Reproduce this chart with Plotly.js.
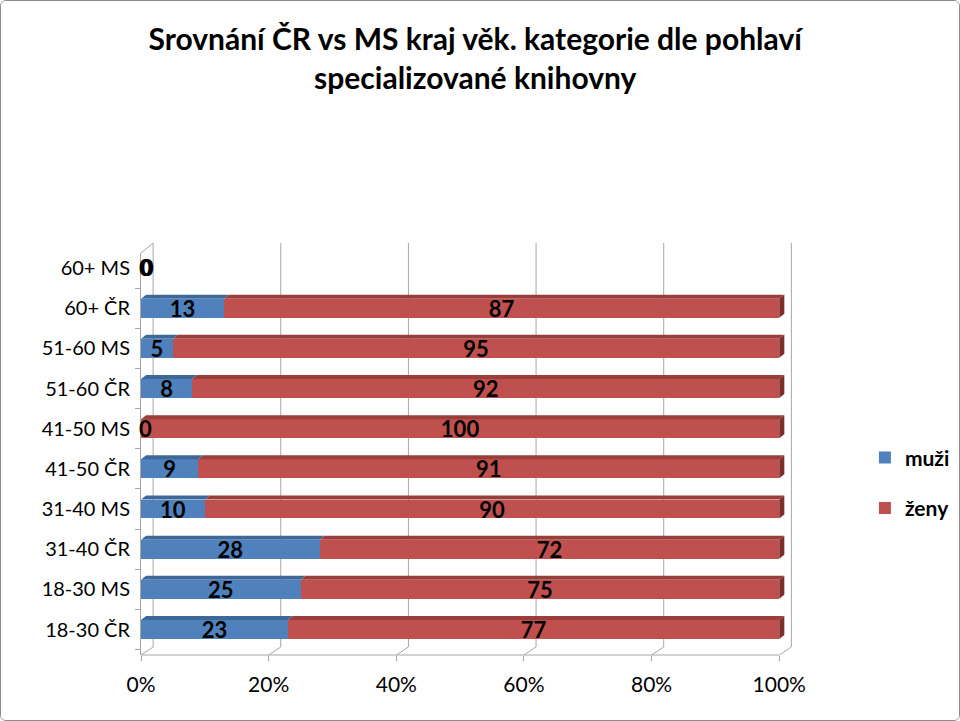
<!DOCTYPE html>
<html>
<head>
<meta charset="utf-8">
<script src="https://cdn.plot.ly/plotly-3.0.1.min.js"></script>
<style>
  body { margin: 0; background: #fff; }
  #chart { width: 958px; height: 719px; border: 1px solid #8c8c8c; border-radius: 6px; overflow: hidden; }
</style>
</head>
<body>
<div id="chart"></div>
<script>
var categories = ["18-30 ČR", "18-30 MS", "31-40 ČR", "31-40 MS", "41-50 ČR",
                  "41-50 MS", "51-60 ČR", "51-60 MS", "60+ ČR", "60+ MS"];
var muzi = [23, 25, 28, 10, 9, 0, 8, 5, 13, 0];
var zeny = [77, 75, 72, 90, 91, 100, 92, 95, 87, 0];
var xTicks = [0, 20, 40, 60, 80, 100];

var BLUE = "#4F81BD", RED = "#C0504D";
var BLUE_TOP = "#3E6898", RED_TOP = "#9A3E3B", RED_SIDE = "#7B2E2C";
var GRID = "#a6a6a6";
var FONT = "Lato, sans-serif";
var labelFont = { family: FONT, size: 22, color: "#000000" };

// fake 3D: depth of bars and of the back wall (x in axis units, y in px / paper)
var barDx = 0.8, barDy = 4, halfBar = 9.5;
var wallDx = 1.9, wallDyTop = 1.025, wallDyBottom = 0.02;

function barTrace(name, values, color, group) {
  return {
    type: "bar",
    orientation: "h",
    name: name,
    legendgroup: group,
    y: categories,
    x: values,
    marker: { color: color },
    text: values.map(function (v) { return v > 0 ? "<b>" + v + "</b>" : ""; }),
    textposition: "inside",
    insidetextanchor: "middle",
    textangle: 0,
    textfont: labelFont,
    hoverinfo: "x+y+name",
  };
}

var data = [
  barTrace("muži", muzi, BLUE, "a"),
  barTrace("ženy", zeny, RED, "b"),
];

var shapes = [];

// floor front edge
shapes.push({
  type: "line", xref: "x", yref: "paper", layer: "below",
  x0: 0, x1: 100, y0: 0, y1: 0,
  line: { color: GRID, width: 1 },
});
// back wall grid lines with the slanted floor piece
xTicks.forEach(function (t) {
  shapes.push({
    type: "path", xref: "x", yref: "paper", layer: "below",
    path: "M " + t + ",0 L " + (t + wallDx) + "," + wallDyBottom + " L " + (t + wallDx) + "," + wallDyTop,
    line: { color: GRID, width: 1 },
  });
});
// left wall top edge
shapes.push({
  type: "path", xref: "x", yref: "paper", layer: "below",
  path: "M 0,1 L " + wallDx + "," + wallDyTop,
  line: { color: GRID, width: 1 },
});

// top and side faces of the bars
function topFace(y, x0, x1, color) {
  shapes.push({
    type: "path", xref: "x", yref: "y", ysizemode: "pixel", yanchor: y, layer: "above",
    path: "M " + x0 + "," + halfBar + " L " + (x0 + barDx) + "," + (halfBar + barDy) +
          " L " + (x1 + barDx) + "," + (halfBar + barDy) + " L " + x1 + "," + halfBar + " Z",
    fillcolor: color, line: { width: 0 },
  });
}
for (var i = 0; i < categories.length; i++) {
  var total = muzi[i] + zeny[i];
  if (muzi[i] > 0) topFace(categories[i], 0, muzi[i], BLUE_TOP);
  if (zeny[i] > 0) topFace(categories[i], muzi[i], total, RED_TOP);
  if (total > 0) {
    shapes.push({
      type: "path", xref: "x", yref: "y", ysizemode: "pixel", yanchor: categories[i], layer: "above",
      path: "M " + total + "," + (-halfBar) + " L " + (total + barDx) + "," + (-halfBar + barDy) +
            " L " + (total + barDx) + "," + (halfBar + barDy) + " L " + total + "," + halfBar + " Z",
      fillcolor: zeny[i] > 0 ? RED_SIDE : "#2F4D70", line: { width: 0 },
    });
  }
}

// zero values have no bar, so their labels go in as annotations
var annotations = [];
for (var j = 0; j < categories.length; j++) {
  [muzi, zeny].forEach(function (arr, k) {
    if (arr[j] === 0) {
      annotations.push({
        x: k === 0 ? 0 : muzi[j], y: categories[j], xref: "x", yref: "y",
        text: "<b>0</b>", showarrow: false, xanchor: "left", xshift: -4 + k * 2,
        font: labelFont,
      });
    }
  });
}

var layout = {
  width: 958,
  height: 719,
  margin: { l: 140, r: 167, t: 252, b: 65, autoexpand: false },
  paper_bgcolor: "#ffffff",
  plot_bgcolor: "#ffffff",
  font: { family: FONT, color: "#000000", size: 20 },
  title: {
    text: "<b>Srovnání ČR vs MS kraj věk. kategorie dle pohlaví<br>specializované knihovny</b>",
    font: { family: FONT, size: 30, color: "#000000" },
    x: 0.495, xref: "container", xanchor: "center",
    y: 0.932, yref: "container", yanchor: "middle",
  },
  barmode: "stack",
  bargap: 0.53,
  showlegend: true,
  legend: {
    x: 1.112, y: 0.428, xanchor: "left", yanchor: "middle",
    traceorder: "grouped",
    font: { family: FONT, size: 21, color: "#000000", weight: 700 },
    tracegroupgap: 20,
    itemwidth: 30,
  },
  xaxis: {
    range: [0, 102],
    tickvals: xTicks,
    ticktext: xTicks.map(function (t) { return t + "%"; }),
    showgrid: false,
    zeroline: false,
    showline: false,
    ticks: "outside",
    ticklen: 5,
    tickcolor: GRID,
    ticklabelstandoff: 6,
    tickfont: { size: 21 },
    fixedrange: true,
  },
  yaxis: {
    type: "category",
    categoryorder: "array",
    categoryarray: categories,
    range: [-0.634, 9.373],
    showline: true,
    linecolor: GRID,
    ticks: "outside",
    tickson: "boundaries",
    ticklen: 5,
    tickcolor: GRID,
    ticklabelstandoff: 6,
    tickfont: { size: 20 },
    showgrid: false,
    fixedrange: true,
  },
  shapes: shapes,
  annotations: annotations,
  uniformtext: { minsize: 22, mode: "show" },
};

var config = { displayModeBar: false, responsive: false };
Plotly.newPlot("chart", data, layout, config);
</script>
</body>
</html>
